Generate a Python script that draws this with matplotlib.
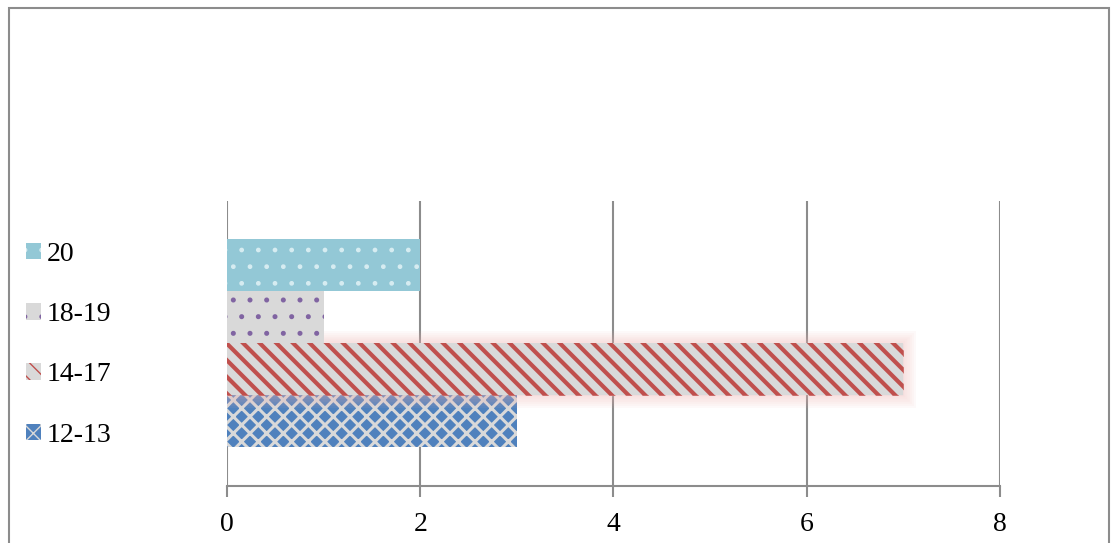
import matplotlib
matplotlib.use("Agg")
import matplotlib.pyplot as plt
import matplotlib.patheffects as pe
from matplotlib.patches import Rectangle

# data (bottom to top as drawn)
groups = ["12-13", "14-17", "18-19", "20"]
counts = [3, 7, 1, 2]
x_ticks = [0, 2, 4, 6, 8]

faces = ["#4f81bd", "#d9d9d9", "#d9d9d9", "#93c8d6"]
hatch_cols = ["#d9d9d9", "#c0504d", "#8064a2", "#d6ecf1"]
hatches = ["xx", "\\\\", ".", "."]
hatch_lw = [2.2, 3.0, 1.2, 1.0]

plt.rcParams["font.family"] = ["Liberation Serif", "DejaVu Serif"]

fig = plt.figure(figsize=(11.11, 5.43), dpi=100)
fig.patches.append(Rectangle((0.008, -0.01), 0.99, 0.995, transform=fig.transFigure,
                             fill=False, edgecolor="#8c8c8c", linewidth=1.5))

ax = fig.add_axes([0.2043, 0.105, 0.6958, 0.525])

handles = []
for i, (g, v) in enumerate(zip(groups, counts)):
    with plt.rc_context({"hatch.linewidth": hatch_lw[i]}):
        bars = ax.barh(i, v, height=1.0, color=faces[i], edgecolor=hatch_cols[i],
                       hatch=hatches[i], linewidth=0, zorder=3)
        h = Rectangle((0, 0), 1, 1, facecolor=faces[i], edgecolor=hatch_cols[i],
                      hatch=hatches[i], linewidth=0)
    for b in list(bars) + [h]:
        try:
            b.set_hatch_linewidth(hatch_lw[i])
        except AttributeError:
            pass
    if g == "14-17":
        # soft red glow around this bar
        for b in bars:
            b.set_path_effects([pe.Stroke(linewidth=w, foreground="#f0b4b2", alpha=0.07)
                                for w in (18, 15, 12, 9, 6, 3)] + [pe.Normal()])
    handles.append(h)

ax.set_xlim(0, 8)
ax.set_ylim(-1.25, 4.23)
ax.set_xticks(x_ticks)
ax.set_yticks([])
ax.grid(axis="x", color="#8c8c8c", linewidth=1.5, zorder=0)
ax.set_axisbelow(True)
for s in ["top", "right", "left"]:
    ax.spines[s].set_visible(False)
ax.spines["bottom"].set_color("#8c8c8c")
ax.spines["bottom"].set_linewidth(1.5)
ax.tick_params(axis="x", length=8, width=1.5, color="#8c8c8c", labelsize=20, pad=11)

fig.legend(handles[::-1], groups[::-1], loc="center left", bbox_to_anchor=(0.0234, 0.365),
           frameon=False, fontsize=20, handlelength=0.55, handleheight=0.55,
           handletextpad=0.2, labelspacing=1.27, borderpad=0, borderaxespad=0)

fig.savefig("out.png", dpi=100)
